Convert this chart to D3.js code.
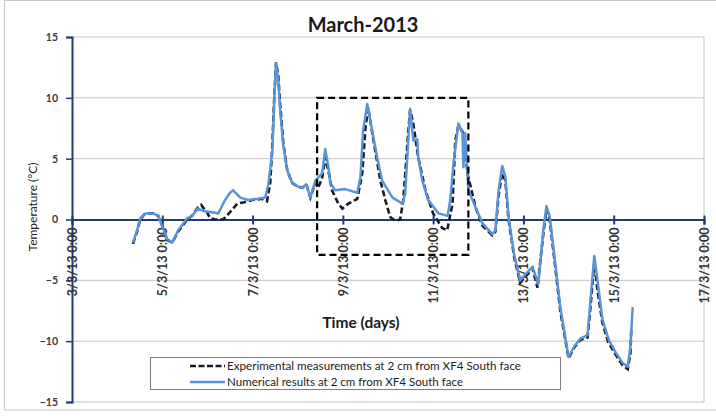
<!DOCTYPE html>
<html><head><meta charset="utf-8">
<script src="https://cdn.jsdelivr.net/npm/d3@7/dist/d3.min.js"></script>
<style>body{margin:0;background:#fff}svg{display:block}text{font-family:Lato,"Open Sans",sans-serif}</style>
</head><body><svg id="c" width="716" height="416"></svg>
<script>
// days since 3/3/13 0:00
const tickLabels = ["3/3/13 0:00","5/3/13 0:00","7/3/13 0:00","9/3/13 0:00","11/3/13 0:00","13/3/13 0:00","15/3/13 0:00","17/3/13 0:00"];
const tickDays = [0,2,4,6,8,10,12,14];
const yTicks = [15,10,5,0,-5,-10,-15];

const numDays = [1.35,1.44,1.51,1.62,1.80,1.91,2.00,2.11,2.22,2.35,2.55,2.66,2.79,2.91,3.10,3.24,3.39,3.50,3.57,3.73,3.90,4.12,4.28,4.35,4.44,4.48,4.52,4.57,4.61,4.68,4.77,4.88,5.01,5.10,5.19,5.28,5.39,5.54,5.61,5.68,5.72,5.83,6.05,6.32,6.39,6.45,6.54,6.65,6.76,6.87,7.10,7.32,7.38,7.49,7.56,7.65,7.67,7.76,7.89,8.12,8.32,8.38,8.45,8.54,8.56,8.65,8.67,8.71,8.78,8.94,9.09,9.31,9.38,9.45,9.53,9.60,9.67,9.80,9.93,10.07,10.20,10.33,10.44,10.51,10.58,10.67,10.82,11.00,11.13,11.26,11.42,11.49,11.57,11.64,11.75,11.89,12.04,12.20,12.31,12.37,12.42];
const numTemp = [-1.9,-0.9,0.1,0.5,0.5,0.3,-0.6,-1.6,-1.9,-0.9,0.1,0.3,0.9,0.7,0.6,0.5,1.6,2.2,2.4,1.8,1.6,1.7,1.8,2.9,5.7,9.8,12.8,11.4,9.0,6.1,4.0,3.0,2.7,2.6,2.9,1.8,3.2,3.8,5.8,4.3,3.0,2.4,2.5,2.2,3.5,7.3,9.5,7.3,5.1,3.2,1.8,1.3,2.1,9.1,6.5,6.6,5.1,3.2,1.6,0.5,0.3,1.6,4.6,7.3,7.9,7.1,4.3,7.1,2.4,1.0,-0.3,-1.2,-0.9,2.4,4.4,3.5,0.2,-3.0,-5.0,-4.4,-3.9,-5.3,-0.9,1.1,0.3,-2.5,-7.3,-11.3,-10.4,-9.8,-9.5,-6.4,-3.0,-5.0,-8.2,-9.9,-10.9,-11.8,-12.1,-10.4,-7.2];

const expDays = [1.35,1.44,1.51,1.62,1.80,1.91,2.00,2.11,2.22,2.35,2.55,2.66,2.79,2.86,2.99,3.06,3.17,3.35,3.50,3.66,3.79,3.99,4.21,4.32,4.39,4.43,4.48,4.52,4.57,4.61,4.68,4.77,4.88,5.01,5.10,5.19,5.28,5.39,5.45,5.54,5.61,5.68,5.76,5.90,5.99,6.12,6.32,6.43,6.50,6.56,6.67,6.83,6.94,7.05,7.16,7.27,7.34,7.45,7.49,7.56,7.67,7.83,8.00,8.20,8.31,8.43,8.49,8.56,8.67,8.76,8.94,9.09,9.31,9.38,9.45,9.53,9.60,9.67,9.80,9.93,10.07,10.20,10.31,10.44,10.51,10.58,10.67,10.82,11.00,11.13,11.26,11.42,11.49,11.57,11.64,11.75,11.88,12.04,12.20,12.31,12.37,12.39];
const expTemp = [-2.0,-1.0,0.0,0.5,0.5,0.3,-0.5,-1.7,-1.9,-1.0,0.0,0.3,1.0,1.2,0.6,0.1,0.0,0.0,0.6,1.3,1.4,1.6,1.7,1.5,3.0,5.5,10.0,12.9,11.8,9.5,6.3,4.0,3.0,2.7,2.6,2.9,1.8,3.0,2.6,3.4,5.1,4.0,2.4,1.3,0.9,1.3,1.7,3.8,7.5,9.2,6.7,3.2,1.6,0.2,-0.1,0.0,1.6,7.3,9.0,7.9,5.1,2.4,0.5,-0.7,-0.9,1.3,6.5,7.7,7.1,3.8,1.0,-0.5,-1.3,-1.0,2.0,3.8,3.2,0.0,-3.2,-5.2,-4.6,-4.0,-5.6,-1.2,0.8,0.0,-2.8,-7.6,-11.4,-10.5,-9.9,-9.7,-7.0,-3.5,-5.8,-8.5,-10.1,-11.1,-12.0,-12.3,-11.0,-8.9];

const boxDays = [5.43, 8.78];
const boxTemps = [-2.9, 10];

const legendLabels = ["Experimental measurements at 2 cm from XF4 South face","Numerical results at 2 cm from XF4 South face"];

const svg = d3.select("#c");
const x = d3.scaleLinear().domain([0,14]).range([72,704]);
const y = d3.scaleLinear().domain([-15,15]).range([402,37]);
const navy = "#1f3a7a", blue = "#5a93d6", dark = "#151b2a";

// outer border
svg.append("rect").attr("x",4.5).attr("y",0.5).attr("width",720).attr("height",409.5).attr("fill","none").attr("stroke","#c8c8c8");

// gridlines
svg.append("g").selectAll("line").data(yTicks.filter(d=>d!==0)).join("line")
  .attr("x1",x(0)).attr("x2",x(14)).attr("y1",d=>y(d)).attr("y2",d=>y(d))
  .attr("stroke","#c4c4c4").attr("stroke-width",1);
svg.append("line").attr("x1",x(14)).attr("x2",x(14)).attr("y1",y(15)).attr("y2",y(-15)).attr("stroke","#c4c4c4");

// y axis
const ya = svg.append("g").attr("transform",`translate(${x(0)},0)`)
  .call(d3.axisLeft(y).tickValues(yTicks).tickSize(6).tickPadding(8).tickFormat(d3.format("d")));
ya.select(".domain").attr("stroke",navy).attr("stroke-width",2);
ya.selectAll(".tick line").attr("stroke",navy).attr("stroke-width",1.5);
ya.selectAll(".tick text").attr("font-size",10.5).attr("font-weight","bold").attr("fill","#3a3a3a").attr("font-family","Lato");

// x axis on zero line
const xa = svg.append("g").attr("transform",`translate(0,${y(0)})`)
  .call(d3.axisBottom(x).tickValues(tickDays).tickSize(5).tickFormat((d,i)=>tickLabels[i]));
xa.select(".domain").attr("stroke",navy).attr("stroke-width",2);
xa.selectAll(".tick line").attr("stroke",navy).attr("stroke-width",2).attr("y1",-4);
xa.selectAll(".tick text").attr("font-size",12.5).attr("font-weight","bold").attr("fill","#333").attr("font-family","Lato")
  .attr("text-anchor","end").attr("transform","rotate(-90)").attr("x",-8).attr("y",0).attr("dy","0.36em");

// lines
const line = d3.line().x(d=>x(d[0])).y(d=>y(d[1]));
svg.append("path").datum(expDays.map((d,i)=>[d,expTemp[i]])).attr("d",line)
  .attr("fill","none").attr("stroke",dark).attr("stroke-width",2.6).attr("stroke-dasharray","6,3");
svg.append("path").datum(numDays.map((d,i)=>[d,numTemp[i]])).attr("d",line)
  .attr("fill","none").attr("stroke",blue).attr("stroke-width",2.5).attr("stroke-linejoin","round");

// dashed annotation box
svg.append("rect").attr("x",x(boxDays[0])).attr("y",y(boxTemps[1]))
  .attr("width",x(boxDays[1])-x(boxDays[0])).attr("height",y(boxTemps[0])-y(boxTemps[1]))
  .attr("fill","none").attr("stroke","#000").attr("stroke-width",2.2).attr("stroke-dasharray","7,4");

// title
svg.append("text").attr("x",363).attr("y",32).attr("text-anchor","middle").attr("font-size",20).attr("font-weight","bold").attr("fill","#1a1a1a").text("March-2013");
// axis titles
svg.append("text").attr("x",361).attr("y",328).attr("text-anchor","middle").attr("font-size",15.5).attr("font-weight","bold").attr("fill","#1a1a1a").text("Time (days)");
svg.append("text").attr("transform","translate(37,207) rotate(-90)").attr("text-anchor","middle").attr("font-size",12).attr("fill","#222").text("Temperature (°C)");

// legend
svg.append("rect").attr("x",150.5).attr("y",357.5).attr("width",410).attr("height",32).attr("fill","#fff").attr("stroke","#7f7f7f");
const lg = svg.append("g");
[0,1].forEach(i=>{
  const yy = 366 + i*16;
  lg.append("line").attr("x1",190).attr("x2",225).attr("y1",yy).attr("y2",yy)
    .attr("stroke", i===0?dark:blue).attr("stroke-width",2.4).attr("stroke-dasharray", i===0?"6,2.5":null);
  lg.append("text").attr("x",227).attr("y",yy).attr("dy","0.35em").attr("font-size",11).attr("fill","#222")
    .attr("textLength", i===0?294:236).attr("lengthAdjust","spacingAndGlyphs").text(legendLabels[i]);
});
</script></body></html>
